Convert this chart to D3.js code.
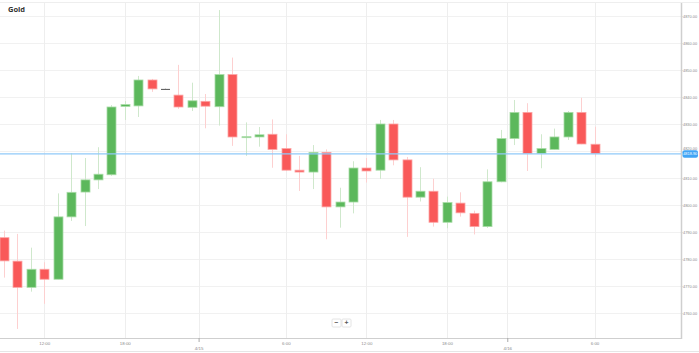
<!DOCTYPE html>
<html>
<head>
<meta charset="utf-8">
<script src="https://cdn.jsdelivr.net/npm/d3@7"></script>
<style>
html,body{margin:0;padding:0;background:#fff;}
svg{display:block;font-family:"Open Sans","Liberation Sans",Arial,sans-serif;}
</style>
</head>
<body>
<svg id="chart" width="699" height="353"></svg>
<script>
const title = "Gold";
const opens  = [4787.9,4779.2,4769.5,4776.2,4772.5,4795.6,4804.8,4809.3,4811.2,4836.5,4836.7,4846.3,4843.0,4840.7,4836.2,4838.4,4836.4,4848.3,4825.2,4825.2,4826.2,4820.9,4812.9,4812.2,4819.5,4799.3,4801.1,4813.7,4812.9,4830.0,4816.7,4802.9,4805.1,4793.6,4800.7,4796.9,4792.0,4808.6,4824.6,4834.3,4819.1,4820.6,4825.2,4834.3,4822.5];
const highs  = [4790.5,4789.3,4784.2,4778.8,4804.3,4819.2,4817.4,4821.4,4837.0,4838.5,4847.8,4846.7,4843.2,4851.9,4845.3,4841.1,4872.2,4854.6,4830.6,4828.9,4831.7,4826.2,4818.2,4822.2,4820.6,4806.4,4816.2,4817.4,4831.5,4831.5,4817.8,4814.0,4809.7,4803.1,4804.7,4797.9,4813.2,4827.8,4838.9,4837.7,4826.2,4828.3,4834.8,4839.7,4829.0];
const lows   = [4773.1,4754.1,4767.9,4763.4,4772.5,4794.1,4792.2,4805.9,4810.8,4831.5,4832.6,4841.9,4842.9,4835.6,4834.8,4828.4,4829.4,4821.9,4818.2,4821.6,4813.8,4812.6,4805.2,4805.9,4787.3,4791.6,4796.9,4808.3,4809.7,4814.7,4788.2,4801.3,4792.0,4791.4,4795.7,4789.1,4791.5,4808.4,4822.2,4812.6,4813.6,4820.5,4824.1,4822.5,4817.9];
const closes = [4779.3,4769.5,4776.2,4772.5,4795.6,4804.7,4809.3,4811.4,4836.3,4837.2,4846.3,4843.0,4843.0,4836.3,4838.6,4836.6,4848.3,4825.2,4825.3,4826.0,4820.6,4812.9,4812.2,4819.5,4799.3,4801.1,4813.7,4812.6,4830.0,4816.7,4802.9,4805.1,4793.6,4800.9,4797.1,4792.0,4808.6,4824.6,4834.3,4819.1,4820.9,4825.2,4834.3,4822.6,4819.1];
const currentPrice = 4818.9;
const yTicks = [4760,4770,4780,4790,4800,4810,4820,4830,4840,4850,4860,4870];
const hourTickIdx = [3,9,21,27,33,44];
const hourTickLabels = ["12:00","18:00","6:00","12:00","18:00","6:00"];
const dayTickIdx = [14.5,37.5];
const dayTickLabels = ["4/15","4/16"];

const svg = d3.select("#chart");
const W = 699, H = 353;
const plotL = 0, plotR = 681, plotT = 3, plotB = 338;

const x = d3.scaleLinear().domain([0, 44]).range([4, 594.5]);
const y = d3.scaleLinear().domain([4760, 4870]).range([313, 16]);

// frame
svg.append("line").attr("x1",0).attr("x2",W).attr("y1",2.5).attr("y2",2.5).attr("stroke","#eeeeee");
svg.append("line").attr("x1",0).attr("x2",W).attr("y1",351.5).attr("y2",351.5).attr("stroke","#e6e6e6");

// horizontal grid
svg.append("g").selectAll("line").data(yTicks).join("line")
  .attr("x1", plotL).attr("x2", plotR)
  .attr("y1", d => Math.round(y(d))+0.5).attr("y2", d => Math.round(y(d))+0.5)
  .attr("stroke", "#f1f1f1");

// vertical grid
svg.append("g").selectAll("line").data(hourTickIdx.concat(dayTickIdx)).join("line")
  .attr("x1", d => Math.round(x(d))+0.5).attr("x2", d => Math.round(x(d))+0.5)
  .attr("y1", plotT).attr("y2", plotB)
  .attr("stroke", "#eeeeee");

// axes lines
svg.append("line").attr("x1",0).attr("x2",plotR).attr("y1",plotB+0.5).attr("y2",plotB+0.5).attr("stroke","#cfcfcf");
svg.append("line").attr("x1",plotR+0.5).attr("x2",plotR+0.5).attr("y1",plotT).attr("y2",plotB+1).attr("stroke","#cfcfcf").attr("stroke-width",1.5);

// y axis
const yAxis = d3.axisRight(y).tickValues(yTicks).tickFormat(d3.format(".2f")).tickSize(1.5).tickPadding(0.5);
const ya = svg.append("g").attr("transform", `translate(${plotR},0)`).call(yAxis);
ya.select(".domain").remove();
ya.selectAll(".tick line").attr("stroke","#cfcfcf");
ya.selectAll("text").attr("fill","#8a8a8a").style("font-size","3.9px").style("font-family","'Liberation Sans',Arial,sans-serif");
// label that collides with the price marker is pushed above it
const priceY = y(currentPrice);
ya.selectAll(".tick").filter(d => Math.abs(y(d) - priceY) < 6)
  .select("text").attr("dy", null).attr("y", d => (priceY - 4.2) - y(d)).attr("dominant-baseline","auto");

// x axis hours
const xAxis = d3.axisBottom(x).tickValues(hourTickIdx).tickFormat((d,i)=>hourTickLabels[i]).tickSize(0).tickPadding(4);
const xa = svg.append("g").attr("transform", `translate(0,${plotB})`).call(xAxis);
xa.select(".domain").remove();
xa.selectAll("text").attr("fill","#8a8a8a").style("font-size","4.4px");

// day labels
const xd = d3.axisBottom(x).tickValues(dayTickIdx).tickFormat((d,i)=>dayTickLabels[i]).tickSize(4).tickPadding(5);
const xda = svg.append("g").attr("transform", `translate(0,${plotB})`).call(xd);
xda.select(".domain").remove();
xda.selectAll(".tick line").attr("stroke","#aaaaaa");
xda.selectAll("text").attr("fill","#8a8a8a").style("font-size","4.4px");

// candles
const data = opens.map((o,i)=>({i, o, h:highs[i], l:lows[i], c:closes[i]}));
const dir = d => d.c > d.o ? 1 : (d.c < d.o ? -1 : 0);
const fillC = d => dir(d) > 0 ? "#5cb85c" : (dir(d) < 0 ? "#f95959" : "#555555");
const bw = 9;
const g = svg.append("g");
g.selectAll("line.wick").data(data).join("line").attr("class","wick")
  .attr("x1", d => Math.round(x(d.i))+0.5).attr("x2", d => Math.round(x(d.i))+0.5)
  .attr("y1", d => y(d.h)).attr("y2", d => y(d.l))
  .attr("stroke", d => dir(d) > 0 ? "#cfe8cc" : (dir(d) < 0 ? "#fdd0d0" : "#cccccc")).attr("stroke-width", 1);
g.selectAll("rect.body").data(data).join("rect").attr("class","body")
  .attr("x", d => Math.round(x(d.i)) + 0.5 - bw/2)
  .attr("width", bw)
  .attr("y", d => y(Math.max(d.o,d.c)))
  .attr("height", d => Math.max(1, Math.abs(y(d.o)-y(d.c))))
  .attr("fill", fillC)
  .attr("stroke", d => dir(d) > 0 ? "#a9dca7" : (dir(d) < 0 ? "#fca5a5" : "none")).attr("stroke-width", 0.8);

// current price line
svg.append("line").attr("x1",0).attr("x2",plotR).attr("y1",priceY).attr("y2",priceY)
  .attr("stroke","#90caf9").attr("stroke-width",1.2);
svg.append("rect").attr("x",plotR+1.5).attr("y",priceY-3.8).attr("width",15.5).attr("height",7.6).attr("rx",2)
  .attr("fill","#42a5f5");
svg.append("text").attr("x",plotR+9.25).attr("y",priceY+1.4).attr("text-anchor","middle")
  .attr("fill","#fff").style("font-size","3.9px").style("font-family","'Liberation Sans',Arial,sans-serif")
  .text(d3.format(".2f")(currentPrice));

// title
svg.append("text").attr("x",8).attr("y",12).attr("fill","#333").style("font-size","7.5px").style("font-weight","bold").text(title);

// zoom buttons
const btns = [{t:"−", x:332}, {t:"+", x:342}];
const bg = svg.append("g").selectAll("g").data(btns).join("g").attr("transform", d=>`translate(${d.x},319)`);
bg.append("rect").attr("width",9).attr("height",8).attr("rx",1).attr("fill","#fff").attr("stroke","#dddddd").attr("stroke-width",0.8);
bg.append("text").attr("x",4.5).attr("y",6.2).attr("text-anchor","middle").attr("fill","#555").style("font-size","7px").style("font-weight","bold").text(d=>d.t);
</script>
</body>
</html>
